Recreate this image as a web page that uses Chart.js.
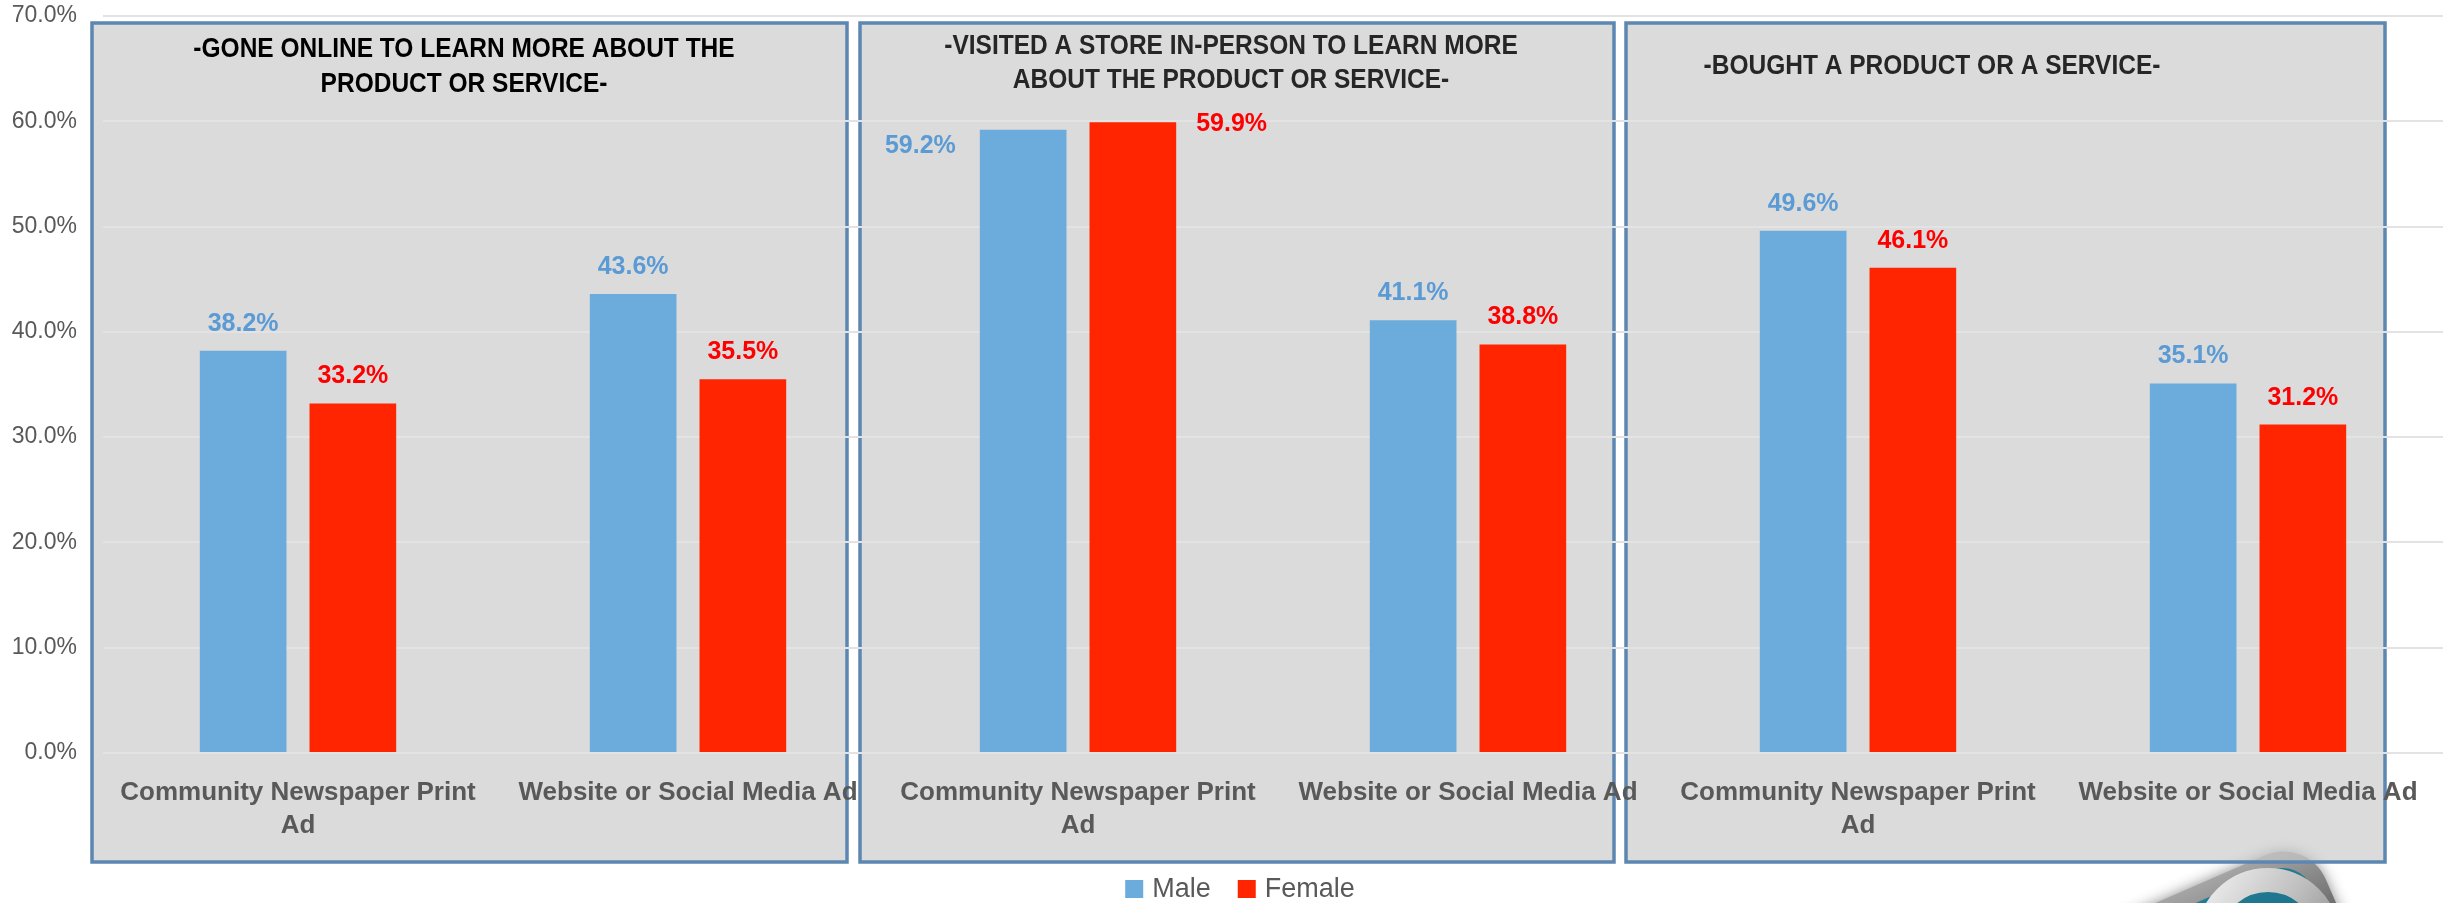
<!DOCTYPE html>
<html>
<head>
<meta charset="utf-8">
<script src="https://cdn.jsdelivr.net/npm/chart.js@4.4.0/dist/chart.umd.min.js"></script>
<style>
  html, body { margin: 0; padding: 0; background: #fff; overflow: hidden; }
  #wrap { width: 2453px; height: 903px; position: relative; }
</style>
</head>
<body>
<div id="wrap"><canvas id="chart" width="2453" height="903"></canvas></div>
<script>
// --- data ---
const categories = [
  ['Community Newspaper Print', 'Ad'], 'Website or Social Media Ad',
  ['Community Newspaper Print', 'Ad'], 'Website or Social Media Ad',
  ['Community Newspaper Print', 'Ad'], 'Website or Social Media Ad'
];
const seriesNames = ['Male', 'Female'];
const maleValues = [38.2, 43.6, 59.2, 41.1, 49.6, 35.1];
const femaleValues = [33.2, 35.5, 59.9, 38.8, 46.1, 31.2];
const panelTitles = [
  ['-GONE ONLINE TO LEARN MORE ABOUT THE', 'PRODUCT OR SERVICE-'],
  ['-VISITED A STORE IN-PERSON TO LEARN MORE', 'ABOUT THE PRODUCT OR SERVICE-'],
  ['-BOUGHT A PRODUCT OR A SERVICE-']
];
const yMax = 70, yStep = 10;

const FONT = '"Liberation Sans", Arial, sans-serif';
const GREY = '#595959';
const MALE_BAR = '#6BACDC', FEMALE_BAR = '#FF2500';
const MALE_TXT = '#5B9BD5', FEMALE_TXT = '#FF0000';

Chart.defaults.font.family = FONT;

// grey framed boxes behind each pair of categories (Excel shapes), plus the corner logo
const panels = [
  { x0: 92, x1: 847, cx: 464, lines: [49, 84], color: '#000000' },
  { x0: 860, x1: 1614, cx: 1231, lines: [46, 80], color: '#262626' },
  { x0: 1626, x1: 2385, cx: 1932, lines: [66], color: '#262626' }
];
const panelTop = 23, panelBottom = 862;

function drawLogo(ctx) {
  ctx.save();
  ctx.translate(2240, 1008);
  ctx.rotate(-0.41);
  const L = 260, r = 46;
  ctx.shadowColor = 'rgba(0,0,0,.45)';
  ctx.shadowBlur = 14;
  ctx.beginPath();
  ctx.roundRect(-L / 2, -L / 2, L, L, r);
  const g = ctx.createLinearGradient(0, -L / 2, 0, L / 2);
  g.addColorStop(0, '#a5a5a5'); g.addColorStop(0.3, '#6a6a6a'); g.addColorStop(1, '#3f3f3f');
  ctx.fillStyle = g;
  ctx.fill();
  ctx.shadowBlur = 0;
  ctx.beginPath();
  ctx.roundRect(-L / 2 + 16, -L / 2 + 16, L - 32, L - 32, r - 14);
  const t = ctx.createLinearGradient(0, -L / 2, 0, L / 2);
  t.addColorStop(0, '#247f98'); t.addColorStop(1, '#064a60');
  ctx.fillStyle = t;
  ctx.fill();
  ctx.restore();
  // ring
  ctx.save();
  ctx.beginPath();
  ctx.arc(2268, 940, 60, 0, Math.PI * 2);
  ctx.lineWidth = 24;
  const rg = ctx.createLinearGradient(2200, 870, 2330, 960);
  rg.addColorStop(0, '#f4f4f4'); rg.addColorStop(0.6, '#bdbdbd'); rg.addColorStop(1, '#8a8a8a');
  ctx.strokeStyle = rg;
  ctx.stroke();
  ctx.restore();
}

const backdrop = {
  id: 'backdrop',
  beforeDraw(chart) {
    const ctx = chart.ctx;
    ctx.save();
    ctx.fillStyle = '#ffffff';
    ctx.fillRect(0, 0, chart.width, chart.height);
    drawLogo(ctx);
    panels.forEach(p => {
      ctx.fillStyle = 'rgba(200,200,200,0.66)';
      ctx.fillRect(p.x0, panelTop, p.x1 - p.x0, panelBottom - panelTop);
      ctx.strokeStyle = '#5B87B1';
      ctx.lineWidth = 3.5;
      ctx.strokeRect(p.x0, panelTop, p.x1 - p.x0, panelBottom - panelTop);
    });
    ctx.restore();
  },
  afterDraw(chart) {
    const ctx = chart.ctx;
    // panel titles: a taller bold face squeezed sideways, like the narrow original font
    const squeeze = 0.875;
    panels.forEach((p, i) => {
      ctx.save();
      ctx.font = 'bold 28px ' + FONT;
      ctx.textAlign = 'center';
      ctx.textBaseline = 'middle';
      ctx.fillStyle = p.color;
      ctx.translate(p.cx, 0);
      ctx.scale(squeeze, 1);
      panelTitles[i].forEach((line, k) => ctx.fillText(line, 0, p.lines[k]));
      ctx.restore();
    });
    // legend (drawn by hand so it can sit against the bottom edge like the original)
    ctx.save();
    ctx.font = '27px ' + FONT;
    ctx.textAlign = 'left';
    ctx.textBaseline = 'middle';
    const items = chart.data.datasets.map(ds => ({ text: ds.label, color: ds.backgroundColor }));
    const box = 18, gap = 9, spacing = 27, cy = 889;
    const widths = items.map(it => box + gap + ctx.measureText(it.text).width);
    const total = widths.reduce((a, b) => a + b, 0) + spacing * (items.length - 1);
    let x = 1240 - total / 2;
    items.forEach((it, i) => {
      ctx.fillStyle = it.color;
      ctx.fillRect(x, cy - box / 2, box, box);
      ctx.fillStyle = GREY;
      ctx.fillText(it.text, x + box + gap, cy + 1);
      x += widths[i] + spacing;
    });
    ctx.restore();
  }
};

// value labels above bars; the tallest pair sits beside its bars
const valueLabels = {
  id: 'valueLabels',
  afterDatasetsDraw(chart) {
    const ctx = chart.ctx;
    ctx.save();
    ctx.font = 'bold 25px ' + FONT;
    chart.data.datasets.forEach((ds, di) => {
      const meta = chart.getDatasetMeta(di);
      ctx.fillStyle = di === 0 ? MALE_TXT : FEMALE_TXT;
      meta.data.forEach((bar, j) => {
        const v = ds.data[j];
        const txt = v.toFixed(1) + '%';
        if (v >= 55) {
          ctx.textBaseline = 'middle';
          if (di === 0) {
            ctx.textAlign = 'right';
            ctx.fillText(txt, bar.x - bar.width / 2 - 24, bar.y + 16);
          } else {
            ctx.textAlign = 'left';
            ctx.fillText(txt, bar.x + bar.width / 2 + 20, bar.y + 2);
          }
        } else {
          ctx.textAlign = 'center';
          ctx.textBaseline = 'alphabetic';
          ctx.fillText(txt, bar.x, bar.y - 20);
        }
      });
    });
    ctx.restore();
  }
};

new Chart(document.getElementById('chart'), {
  type: 'bar',
  data: {
    labels: categories,
    datasets: [
      { label: seriesNames[0], data: maleValues, backgroundColor: MALE_BAR, borderWidth: 0,
        categoryPercentage: 0.5626, barPercentage: 0.79 },
      { label: seriesNames[1], data: femaleValues, backgroundColor: FEMALE_BAR, borderWidth: 0,
        categoryPercentage: 0.5626, barPercentage: 0.79 }
    ]
  },
  options: {
    responsive: false,
    animation: false,
    devicePixelRatio: 1,
    layout: { padding: { top: 0, right: 10, bottom: 52, left: 0 } },
    plugins: {
      tooltip: { enabled: false },
      legend: { display: false }
    },
    scales: {
      x: {
        grid: { display: false },
        border: { display: false },
        ticks: { color: GREY, font: { size: 26, weight: 'bold', lineHeight: 1.27 }, padding: 15,
                 maxRotation: 0, minRotation: 0, autoSkip: false },
        afterFit(scale) { scale.height = 98; }
      },
      y: {
        min: 0, max: yMax,
        grid: { color: '#E3E3E3', lineWidth: 2, drawTicks: false },
        border: { display: false },
        ticks: { stepSize: yStep, color: GREY, font: { size: 23, lineHeight: 1.15 }, padding: 26,
                 callback: v => v.toFixed(1) + '%' },
        afterFit(scale) {
          scale.width = 103;
          scale.paddingTop = 16;
          scale.paddingBottom = 13;
        }
      }
    }
  },
  plugins: [backdrop, valueLabels]
});
</script>
</body>
</html>
